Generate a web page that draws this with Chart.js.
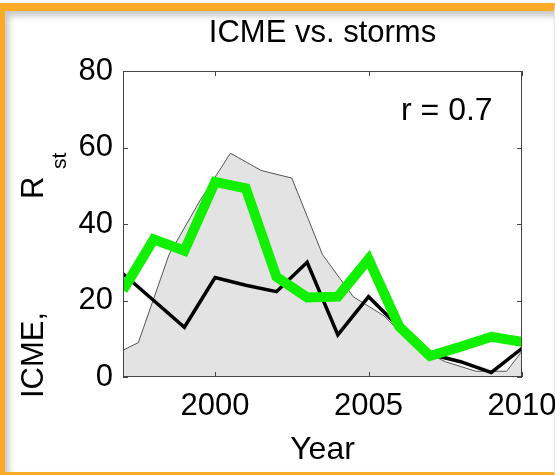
<!DOCTYPE html>
<html>
<head>
<meta charset="utf-8">
<script src="https://cdn.jsdelivr.net/npm/chart.js@4"></script>
<style>
  html, body { margin: 0; padding: 0; background: #fff; }
  #frame {
    position: absolute; left: 0; top: 3px; width: 555px; height: 472px;
    box-sizing: border-box; background: #fff;
    border-top: 8px solid #fbaa26; border-left: 5px solid #fbaa26;
    border-bottom: 3px solid #fbaa26; border-right: 1px solid #e4e4e4;
    box-shadow: inset 4px 5px 6px rgba(0,0,0,0.22);
  }
  #wrap { position: absolute; left: 0; top: 0; width: 555px; height: 475px; }
</style>
</head>
<body>
<div id="frame"></div>
<div id="wrap"><canvas id="stormChart" width="555" height="475"></canvas></div>
<script>
// Data: ICME rate, storm rate R_st, and scaled sunspot shading
const years = [1997, 1998, 1999, 2000, 2001, 2002, 2003, 2004, 2005, 2006, 2007, 2008, 2009, 2010];
const icme = [27, 20, 13, 26, 24, 22.3, 30, 11, 21, 13, 6, 4, 1.2, 7.5];
const rst = [22.7, 36, 33, 51, 49.3, 26.2, 20.8, 21, 30.8, 13.2, 5.5, 7.9, 10.5, 9.2];

const ssnYears = [1996.5, 1997.5, 1998.5, 1999.5, 2000.5, 2001.5, 2002.5, 2003.5, 2004.5, 2005.5, 2006.5, 2007.5, 2008.5, 2009.5, 2010.5];
const ssn = [5, 9, 32, 46, 58.5, 54, 52, 32, 21, 16, 8, 4, 1.5, 1.5, 12];

const xTicks = [2000, 2005, 2010];
const yTicks = [0, 20, 40, 60, 80];

const FONT = "'Liberation Sans', Arial, Helvetica, sans-serif";

const toPoints = (xs, ys) => xs.map((x, i) => ({ x: x, y: ys[i] }));

// frame box with inward tick marks (Matlab style) + annotations
const decorations = {
    id: 'decorations',
    afterDatasetsDraw(chart) {
        const { ctx, chartArea: a, scales } = chart;
        ctx.save();
        ctx.strokeStyle = '#444';
        ctx.lineWidth = 1;
        ctx.strokeRect(a.left + 0.5, a.top + 0.5, a.width - 1, a.height - 1);
        const tl = 5;
        ctx.beginPath();
        xTicks.forEach(v => {
            const px = Math.round(scales.x.getPixelForValue(v)) + 0.5;
            ctx.moveTo(px, a.top); ctx.lineTo(px, a.top + tl);
            ctx.moveTo(px, a.bottom); ctx.lineTo(px, a.bottom - tl);
        });
        yTicks.forEach(v => {
            const py = Math.round(scales.y.getPixelForValue(v)) + 0.5;
            ctx.moveTo(a.left, py); ctx.lineTo(a.left + tl, py);
            ctx.moveTo(a.right, py); ctx.lineTo(a.right - tl, py);
        });
        ctx.stroke();
        ctx.restore();
    },
    afterDraw(chart) {
        const { ctx, chartArea: a } = chart;
        ctx.save();
        ctx.fillStyle = '#000';
        // title
        ctx.font = '31px ' + FONT;
        ctx.textAlign = 'center';
        ctx.textBaseline = 'alphabetic';
        ctx.fillText('ICME vs. storms', (a.left + a.right) / 2, 42);
        // correlation
        ctx.font = '32px ' + FONT;
        ctx.textAlign = 'left';
        ctx.fillText('r = 0.7', 401, 120);
        // y label with subscript
        ctx.translate(43, 398);
        ctx.rotate(-Math.PI / 2);
        ctx.font = '31px ' + FONT;
        ctx.fillText('ICME,', 0, 0);
        ctx.fillText('R', 199, 0);
        ctx.font = '21px ' + FONT;
        ctx.fillText('st', 229, 23);
        ctx.restore();
    }
};

const ctx = document.getElementById('stormChart').getContext('2d');
const stormChart = new Chart(ctx, {
    type: 'line',
    data: {
        datasets: [
            {
                label: 'R_st',
                data: toPoints(years, rst),
                borderColor: 'rgb(16, 240, 0)',
                borderWidth: 10,
                pointRadius: 0,
                fill: false,
                clip: 0,
                order: 0
            },
            {
                label: 'ICME',
                data: toPoints(years, icme),
                borderColor: '#000',
                borderWidth: 3.5,
                pointRadius: 0,
                fill: false,
                clip: 0,
                order: 1
            },
            {
                label: 'Sunspots',
                data: toPoints(ssnYears, ssn),
                borderColor: '#555',
                borderWidth: 1,
                backgroundColor: '#e3e3e3',
                pointRadius: 0,
                fill: 'origin',
                clip: 0,
                order: 2
            }
        ]
    },
    options: {
        responsive: false,
        animation: false,
        events: [],
        layout: {
            autoPadding: false,
            padding: { left: 0, right: 33, top: 71, bottom: 0 }
        },
        plugins: {
            legend: { display: false },
            title: { display: false },
            tooltip: { enabled: false }
        },
        scales: {
            x: {
                type: 'linear',
                min: 1997,
                max: 2010,
                afterBuildTicks: s => { s.ticks = xTicks.map(v => ({ value: v })); },
                // fixed height; let the last label run off the edge as in the original
                afterFit: s => { s.height = 98; s.paddingLeft = 0; s.paddingRight = 0; },
                grid: { display: false, drawTicks: false },
                border: { display: false },
                ticks: {
                    color: '#000',
                    font: { family: FONT, size: 31 },
                    padding: 11,
                    maxRotation: 0,
                    callback: v => String(v)
                },
                title: {
                    display: true,
                    text: 'Year',
                    color: '#000',
                    font: { family: FONT, size: 32 },
                    padding: { top: 0, bottom: 6 }
                }
            },
            y: {
                min: 0,
                max: 80,
                afterBuildTicks: s => { s.ticks = yTicks.map(v => ({ value: v })); },
                afterFit: s => { s.width = 123; s.paddingTop = 0; s.paddingBottom = 0; },
                grid: { display: false, drawTicks: false },
                border: { display: false },
                ticks: {
                    color: '#000',
                    font: { family: FONT, size: 31 },
                    padding: 10,
                    callback: v => String(v)
                }
            }
        }
    },
    plugins: [decorations]
});
</script>
</body>
</html>
